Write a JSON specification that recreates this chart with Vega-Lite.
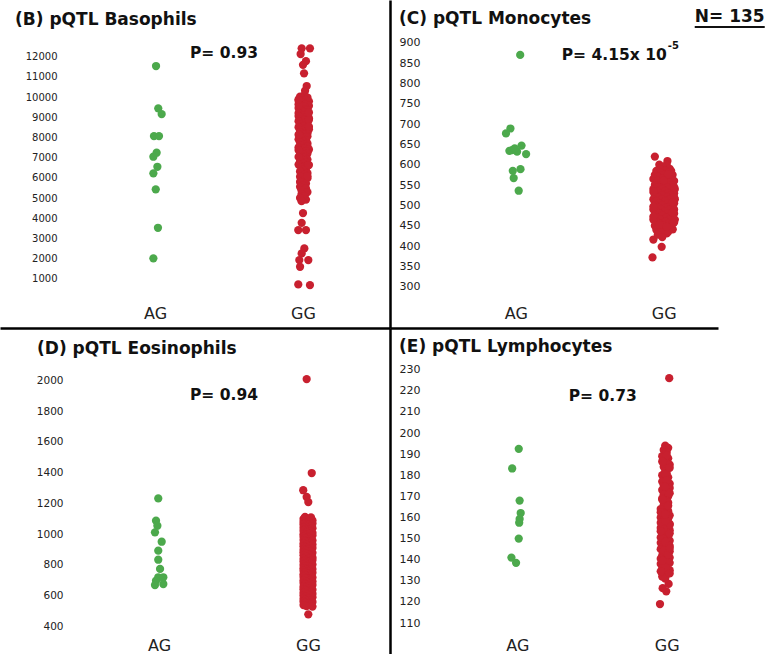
{
"$schema": "https://vega.github.io/schema/vega-lite/v6.json",
"padding": 0,
"background": "white",
"spacing": 0,
"config": {"view": {"stroke": null}, "concat": {"spacing": 0}, "axis": {"grid": false, "title": null, "labelOverlap": false}},
"datasets": {
"baso": [
{"g":"AG","x":1.007,"v":11540},{"g":"AG","x":1.022,"v":9446},{"g":"AG","x":1.045,"v":9163},{"g":"AG","x":0.993,"v":8074},{"g":"AG","x":1.027,"v":8074},{"g":"AG","x":1.011,"v":7248},{"g":"AG","x":0.989,"v":7050},{"g":"AG","x":1.016,"v":6554},{"g":"AG","x":0.989,"v":6228},{"g":"AG","x":1.005,"v":5436},{"g":"AG","x":1.02,"v":3535},{"g":"AG","x":0.989,"v":2020},
{"g":"GG","x":1.991,"v":12416},{"g":"GG","x":2.047,"v":12416},{"g":"GG","x":1.984,"v":12134},{"g":"GG","x":2.02,"v":11780},{"g":"GG","x":2.0,"v":11600},{"g":"GG","x":2.007,"v":11178},{"g":"GG","x":2.025,"v":10550},{"g":"GG","x":2.014,"v":10317},{"g":"GG","x":2.0,"v":4260},{"g":"GG","x":1.991,"v":3780},{"g":"GG","x":1.968,"v":3420},{"g":"GG","x":2.02,"v":3420},{"g":"GG","x":2.009,"v":2514},{"g":"GG","x":1.991,"v":2267},{"g":"GG","x":1.975,"v":1937},{"g":"GG","x":2.036,"v":1937},{"g":"GG","x":1.98,"v":1604},{"g":"GG","x":1.968,"v":733},{"g":"GG","x":2.047,"v":700},
{"g":"GG","x":2.01,"v":10100},{"g":"GG","x":1.98,"v":10020},{"g":"GG","x":2.03,"v":9980},{"g":"GG","x":1.99,"v":9920},{"g":"GG","x":2.02,"v":9870},{"g":"GG","x":1.97,"v":9820},{"g":"GG","x":2.04,"v":9790},{"g":"GG","x":2.0,"v":9720},{"g":"GG","x":2.02,"v":9660},{"g":"GG","x":1.98,"v":9610},{"g":"GG","x":2.04,"v":9570},{"g":"GG","x":2.01,"v":9520},{"g":"GG","x":1.97,"v":9460},{"g":"GG","x":2.02,"v":9410},{"g":"GG","x":2.03,"v":9360},{"g":"GG","x":1.99,"v":9310},{"g":"GG","x":2.01,"v":9260},{"g":"GG","x":1.97,"v":9210},{"g":"GG","x":2.03,"v":9160},{"g":"GG","x":2.0,"v":9110},{"g":"GG","x":1.97,"v":9060},{"g":"GG","x":2.02,"v":9010},{"g":"GG","x":2.04,"v":8960},{"g":"GG","x":1.99,"v":8910},{"g":"GG","x":2.01,"v":8860},{"g":"GG","x":1.97,"v":8810},{"g":"GG","x":2.03,"v":8760},{"g":"GG","x":2.01,"v":8710},{"g":"GG","x":1.98,"v":8660},{"g":"GG","x":2.03,"v":8610},{"g":"GG","x":2.0,"v":8560},{"g":"GG","x":1.97,"v":8510},{"g":"GG","x":2.02,"v":8460},{"g":"GG","x":2.04,"v":8410},{"g":"GG","x":1.99,"v":8360},{"g":"GG","x":2.01,"v":8310},{"g":"GG","x":1.98,"v":8260},{"g":"GG","x":2.03,"v":8210},{"g":"GG","x":2.0,"v":8160},{"g":"GG","x":1.98,"v":8110},{"g":"GG","x":2.03,"v":8060},{"g":"GG","x":2.02,"v":8010},{"g":"GG","x":1.99,"v":7960},{"g":"GG","x":1.97,"v":7910},{"g":"GG","x":2.02,"v":7860},{"g":"GG","x":2.0,"v":7810},{"g":"GG","x":1.98,"v":7760},{"g":"GG","x":2.03,"v":7710},{"g":"GG","x":2.01,"v":7660},{"g":"GG","x":1.99,"v":7610},{"g":"GG","x":2.03,"v":7560},{"g":"GG","x":1.97,"v":7510},{"g":"GG","x":2.01,"v":7460},{"g":"GG","x":2.04,"v":7410},{"g":"GG","x":1.99,"v":7360},{"g":"GG","x":2.02,"v":7310},{"g":"GG","x":1.98,"v":7260},{"g":"GG","x":2.03,"v":7210},{"g":"GG","x":2.0,"v":7160},{"g":"GG","x":1.98,"v":7110},{"g":"GG","x":2.02,"v":7060},{"g":"GG","x":2.01,"v":7010},{"g":"GG","x":1.98,"v":6960},{"g":"GG","x":2.03,"v":6910},{"g":"GG","x":2.01,"v":6860},{"g":"GG","x":1.98,"v":6810},{"g":"GG","x":2.02,"v":6760},{"g":"GG","x":2.0,"v":6710},{"g":"GG","x":1.97,"v":6660},{"g":"GG","x":2.03,"v":6610},{"g":"GG","x":2.01,"v":6560},{"g":"GG","x":1.99,"v":6510},{"g":"GG","x":2.02,"v":6460},{"g":"GG","x":2.0,"v":6400},{"g":"GG","x":1.98,"v":6320},{"g":"GG","x":2.03,"v":6240},{"g":"GG","x":2.01,"v":6150},{"g":"GG","x":1.98,"v":6060},{"g":"GG","x":2.03,"v":5990},{"g":"GG","x":2.01,"v":5900},{"g":"GG","x":1.98,"v":5800},{"g":"GG","x":2.02,"v":5720},{"g":"GG","x":2.0,"v":5640},{"g":"GG","x":1.98,"v":5560},{"g":"GG","x":2.02,"v":5480},{"g":"GG","x":1.99,"v":5390},{"g":"GG","x":2.03,"v":5300},{"g":"GG","x":1.99,"v":5200},{"g":"GG","x":2.01,"v":5100},{"g":"GG","x":1.98,"v":5010},{"g":"GG","x":2.02,"v":4930},{"g":"GG","x":1.99,"v":4850},{"g":"GG","x":1.97,"v":9640},{"g":"GG","x":2.04,"v":8880},{"g":"GG","x":1.97,"v":8140},{"g":"GG","x":1.97,"v":7380},{"g":"GG","x":2.04,"v":6640},{"g":"GG","x":1.97,"v":9890},{"g":"GG","x":2.04,"v":9240},{"g":"GG","x":1.97,"v":7040},{"g":"GG","x":2.03,"v":6090},{"g":"GG","x":2.04,"v":8540}
],
"mono": [
{"g":"AG","x":1.03,"v":870},{"g":"AG","x":0.964,"v":689},{"g":"AG","x":0.934,"v":677},{"g":"AG","x":0.975,"v":636},{"g":"AG","x":1.009,"v":632},{"g":"AG","x":1.039,"v":647},{"g":"AG","x":1.07,"v":626},{"g":"AG","x":0.957,"v":634},{"g":"AG","x":0.98,"v":585},{"g":"AG","x":1.032,"v":589},{"g":"AG","x":0.986,"v":567},{"g":"AG","x":1.02,"v":536},{"g":"AG","x":0.993,"v":640},
{"g":"GG","x":1.94,"v":620},{"g":"GG","x":2.025,"v":609},{"g":"GG","x":1.986,"v":398},{"g":"GG","x":1.924,"v":372},{"g":"GG","x":2.061,"v":441},{"g":"GG","x":2.02,"v":431},{"g":"GG","x":1.93,"v":416},
{"g":"GG","x":1.97,"v":600},{"g":"GG","x":2.02,"v":600},{"g":"GG","x":1.99,"v":595},{"g":"GG","x":1.97,"v":590},{"g":"GG","x":2.04,"v":590},{"g":"GG","x":1.95,"v":585},{"g":"GG","x":2.01,"v":585},{"g":"GG","x":2.05,"v":585},{"g":"GG","x":1.98,"v":580},{"g":"GG","x":2.03,"v":580},{"g":"GG","x":1.94,"v":575},{"g":"GG","x":2.0,"v":575},{"g":"GG","x":2.06,"v":575},{"g":"GG","x":1.96,"v":570},{"g":"GG","x":2.02,"v":570},{"g":"GG","x":1.93,"v":565},{"g":"GG","x":1.99,"v":565},{"g":"GG","x":2.04,"v":565},{"g":"GG","x":1.96,"v":560},{"g":"GG","x":2.02,"v":560},{"g":"GG","x":2.07,"v":560},{"g":"GG","x":1.98,"v":555},{"g":"GG","x":2.04,"v":555},{"g":"GG","x":1.94,"v":550},{"g":"GG","x":2.0,"v":550},{"g":"GG","x":2.06,"v":550},{"g":"GG","x":1.96,"v":545},{"g":"GG","x":2.02,"v":545},{"g":"GG","x":1.93,"v":540},{"g":"GG","x":1.99,"v":540},{"g":"GG","x":2.04,"v":540},{"g":"GG","x":2.075,"v":540},{"g":"GG","x":1.95,"v":535},{"g":"GG","x":2.01,"v":535},{"g":"GG","x":1.97,"v":530},{"g":"GG","x":2.03,"v":530},{"g":"GG","x":2.07,"v":530},{"g":"GG","x":1.94,"v":525},{"g":"GG","x":1.99,"v":525},{"g":"GG","x":2.05,"v":525},{"g":"GG","x":1.96,"v":520},{"g":"GG","x":2.02,"v":520},{"g":"GG","x":1.93,"v":515},{"g":"GG","x":1.99,"v":515},{"g":"GG","x":2.04,"v":515},{"g":"GG","x":2.075,"v":515},{"g":"GG","x":1.95,"v":510},{"g":"GG","x":2.01,"v":510},{"g":"GG","x":1.97,"v":505},{"g":"GG","x":2.03,"v":505},{"g":"GG","x":2.07,"v":505},{"g":"GG","x":1.94,"v":500},{"g":"GG","x":1.99,"v":500},{"g":"GG","x":2.05,"v":500},{"g":"GG","x":1.96,"v":495},{"g":"GG","x":2.02,"v":495},{"g":"GG","x":1.93,"v":490},{"g":"GG","x":1.98,"v":490},{"g":"GG","x":2.04,"v":490},{"g":"GG","x":2.07,"v":490},{"g":"GG","x":1.95,"v":485},{"g":"GG","x":2.01,"v":485},{"g":"GG","x":1.97,"v":480},{"g":"GG","x":2.03,"v":480},{"g":"GG","x":2.07,"v":480},{"g":"GG","x":1.94,"v":475},{"g":"GG","x":1.99,"v":475},{"g":"GG","x":2.05,"v":475},{"g":"GG","x":1.96,"v":470},{"g":"GG","x":2.02,"v":470},{"g":"GG","x":1.93,"v":465},{"g":"GG","x":1.98,"v":465},{"g":"GG","x":2.04,"v":465},{"g":"GG","x":2.075,"v":465},{"g":"GG","x":1.95,"v":460},{"g":"GG","x":2.01,"v":460},{"g":"GG","x":1.97,"v":455},{"g":"GG","x":2.03,"v":455},{"g":"GG","x":2.06,"v":455},{"g":"GG","x":1.94,"v":450},{"g":"GG","x":2.0,"v":450},{"g":"GG","x":1.96,"v":445},{"g":"GG","x":2.04,"v":445},{"g":"GG","x":1.95,"v":440},{"g":"GG","x":2.01,"v":440},{"g":"GG","x":1.98,"v":435},{"g":"GG","x":2.03,"v":435},{"g":"GG","x":1.96,"v":428},{"g":"GG","x":1.99,"v":422},
{"g":"GG","x":2.07,"v":545},{"g":"GG","x":2.07,"v":520},{"g":"GG","x":1.93,"v":497},{"g":"GG","x":1.93,"v":472},{"g":"GG","x":2.07,"v":458},{"g":"GG","x":1.93,"v":533},{"g":"GG","x":2.06,"v":508},{"g":"GG","x":2.06,"v":483},{"g":"GG","x":2.0,"v":562},{"g":"GG","x":2.03,"v":577},{"g":"GG","x":1.97,"v":452},{"g":"GG","x":2.02,"v":447}
],
"eos": [
{"g":"AG","x":0.995,"v":1232},{"g":"AG","x":0.98,"v":1087},{"g":"AG","x":0.989,"v":1054},{"g":"AG","x":0.973,"v":1011},{"g":"AG","x":1.018,"v":950},{"g":"AG","x":0.995,"v":892},{"g":"AG","x":0.995,"v":833},{"g":"AG","x":1.007,"v":773},{"g":"AG","x":0.995,"v":719},{"g":"AG","x":1.029,"v":719},{"g":"AG","x":0.98,"v":697},{"g":"AG","x":1.029,"v":675},{"g":"AG","x":0.973,"v":668},
{"g":"GG","x":1.991,"v":2008},{"g":"GG","x":2.025,"v":1397},{"g":"GG","x":1.968,"v":1285},{"g":"GG","x":1.991,"v":1241},{"g":"GG","x":2.002,"v":1208},{"g":"GG","x":2.002,"v":478},
{"g":"GG","x":1.98,"v":1112},{"g":"GG","x":2.02,"v":1108},{"g":"GG","x":1.97,"v":1098},{"g":"GG","x":2.01,"v":1101},{"g":"GG","x":1.99,"v":1091},{"g":"GG","x":2.03,"v":1088},{"g":"GG","x":1.97,"v":1079},{"g":"GG","x":2.01,"v":1082},{"g":"GG","x":1.98,"v":1071},{"g":"GG","x":2.03,"v":1068},{"g":"GG","x":2.0,"v":1059},{"g":"GG","x":1.97,"v":1062},{"g":"GG","x":2.02,"v":1051},{"g":"GG","x":1.98,"v":1048},{"g":"GG","x":1.97,"v":1041},{"g":"GG","x":2.03,"v":1038},{"g":"GG","x":2.0,"v":1029},{"g":"GG","x":1.98,"v":1032},{"g":"GG","x":2.02,"v":1019},{"g":"GG","x":1.97,"v":1022},{"g":"GG","x":1.99,"v":1011},{"g":"GG","x":2.03,"v":1008},{"g":"GG","x":1.97,"v":999},{"g":"GG","x":2.01,"v":1002},{"g":"GG","x":2.03,"v":991},{"g":"GG","x":1.98,"v":988},{"g":"GG","x":2.0,"v":979},{"g":"GG","x":1.97,"v":982},{"g":"GG","x":2.02,"v":969},{"g":"GG","x":1.98,"v":972},{"g":"GG","x":1.97,"v":961},{"g":"GG","x":2.03,"v":958},{"g":"GG","x":2.0,"v":949},{"g":"GG","x":1.98,"v":952},{"g":"GG","x":2.02,"v":941},{"g":"GG","x":1.97,"v":938},{"g":"GG","x":1.99,"v":929},{"g":"GG","x":2.03,"v":932},{"g":"GG","x":1.97,"v":921},{"g":"GG","x":2.01,"v":918},{"g":"GG","x":2.03,"v":909},{"g":"GG","x":1.98,"v":912},{"g":"GG","x":2.0,"v":901},{"g":"GG","x":1.97,"v":898},{"g":"GG","x":2.02,"v":889},{"g":"GG","x":1.98,"v":892},{"g":"GG","x":1.97,"v":881},{"g":"GG","x":2.03,"v":878},{"g":"GG","x":2.0,"v":869},{"g":"GG","x":1.98,"v":872},{"g":"GG","x":2.02,"v":859},{"g":"GG","x":1.97,"v":862},{"g":"GG","x":1.99,"v":851},{"g":"GG","x":2.03,"v":848},{"g":"GG","x":1.97,"v":839},{"g":"GG","x":2.01,"v":842},{"g":"GG","x":2.03,"v":831},{"g":"GG","x":1.98,"v":828},{"g":"GG","x":2.0,"v":819},{"g":"GG","x":1.97,"v":822},{"g":"GG","x":2.02,"v":811},{"g":"GG","x":1.98,"v":808},{"g":"GG","x":1.97,"v":799},{"g":"GG","x":2.03,"v":802},{"g":"GG","x":2.0,"v":789},{"g":"GG","x":1.98,"v":792},{"g":"GG","x":2.02,"v":781},{"g":"GG","x":1.97,"v":778},{"g":"GG","x":1.99,"v":769},{"g":"GG","x":2.03,"v":772},{"g":"GG","x":1.97,"v":761},{"g":"GG","x":2.01,"v":758},{"g":"GG","x":2.03,"v":749},{"g":"GG","x":1.98,"v":752},{"g":"GG","x":2.0,"v":741},{"g":"GG","x":1.97,"v":738},{"g":"GG","x":2.02,"v":729},{"g":"GG","x":1.98,"v":732},{"g":"GG","x":1.97,"v":721},{"g":"GG","x":2.03,"v":718},{"g":"GG","x":2.0,"v":709},{"g":"GG","x":1.98,"v":712},{"g":"GG","x":2.02,"v":701},{"g":"GG","x":1.97,"v":698},{"g":"GG","x":1.99,"v":689},{"g":"GG","x":2.03,"v":692},{"g":"GG","x":1.97,"v":681},{"g":"GG","x":2.01,"v":678},{"g":"GG","x":2.03,"v":669},{"g":"GG","x":1.98,"v":672},{"g":"GG","x":2.0,"v":661},{"g":"GG","x":1.97,"v":658},{"g":"GG","x":2.02,"v":649},{"g":"GG","x":1.98,"v":652},{"g":"GG","x":1.97,"v":641},{"g":"GG","x":2.03,"v":638},{"g":"GG","x":2.0,"v":629},{"g":"GG","x":1.98,"v":632},{"g":"GG","x":2.02,"v":621},{"g":"GG","x":1.97,"v":618},{"g":"GG","x":1.99,"v":609},{"g":"GG","x":2.03,"v":612},{"g":"GG","x":1.97,"v":601},{"g":"GG","x":2.01,"v":598},{"g":"GG","x":2.03,"v":589},{"g":"GG","x":1.98,"v":592},{"g":"GG","x":2.0,"v":581},{"g":"GG","x":1.97,"v":578},{"g":"GG","x":2.02,"v":569},{"g":"GG","x":1.98,"v":572},{"g":"GG","x":1.97,"v":561},{"g":"GG","x":2.03,"v":558},{"g":"GG","x":2.0,"v":549},{"g":"GG","x":1.98,"v":552},{"g":"GG","x":2.02,"v":541},{"g":"GG","x":1.97,"v":538},{"g":"GG","x":1.99,"v":531},{"g":"GG","x":2.03,"v":528}
],
"lymph": [
{"g":"AG","x":1.009,"v":192.5},{"g":"AG","x":0.965,"v":183.2},{"g":"AG","x":1.015,"v":168},{"g":"AG","x":1.022,"v":162.1},{"g":"AG","x":1.015,"v":159.3},{"g":"AG","x":1.012,"v":157.5},{"g":"AG","x":1.009,"v":150},{"g":"AG","x":0.96,"v":141},{"g":"AG","x":0.991,"v":138.5},
{"g":"GG","x":2.017,"v":226},{"g":"GG","x":1.955,"v":119},{"g":"GG","x":1.997,"v":125},{"g":"GG","x":1.973,"v":126.5},{"g":"GG","x":2.013,"v":128.5},
{"g":"GG","x":1.99,"v":194},{"g":"GG","x":2.01,"v":193},{"g":"GG","x":1.98,"v":192},{"g":"GG","x":2.0,"v":191},{"g":"GG","x":1.99,"v":190},{"g":"GG","x":1.97,"v":189},{"g":"GG","x":2.01,"v":188},{"g":"GG","x":1.99,"v":187},{"g":"GG","x":2.0,"v":186},{"g":"GG","x":2.02,"v":185},{"g":"GG","x":1.98,"v":184},{"g":"GG","x":2.0,"v":183},{"g":"GG","x":1.99,"v":182},{"g":"GG","x":2.0,"v":181},{"g":"GG","x":1.97,"v":180},{"g":"GG","x":2.01,"v":179},{"g":"GG","x":1.99,"v":178},{"g":"GG","x":1.97,"v":177},{"g":"GG","x":2.02,"v":176},{"g":"GG","x":1.98,"v":175},{"g":"GG","x":2.02,"v":174},{"g":"GG","x":1.97,"v":173},{"g":"GG","x":2.0,"v":172},{"g":"GG","x":1.98,"v":171},{"g":"GG","x":2.01,"v":170},{"g":"GG","x":1.97,"v":169},{"g":"GG","x":2.0,"v":168},{"g":"GG","x":2.01,"v":167},{"g":"GG","x":1.98,"v":166},{"g":"GG","x":1.99,"v":165},{"g":"GG","x":1.96,"v":164},{"g":"GG","x":2.01,"v":163},{"g":"GG","x":1.98,"v":162},{"g":"GG","x":2.02,"v":161},{"g":"GG","x":1.96,"v":160},{"g":"GG","x":2.0,"v":159},{"g":"GG","x":1.97,"v":158},{"g":"GG","x":2.02,"v":157},{"g":"GG","x":1.98,"v":156},{"g":"GG","x":1.96,"v":155},{"g":"GG","x":2.02,"v":154},{"g":"GG","x":2.0,"v":153},{"g":"GG","x":1.97,"v":152},{"g":"GG","x":2.01,"v":151},{"g":"GG","x":1.98,"v":150},{"g":"GG","x":2.02,"v":149},{"g":"GG","x":1.96,"v":148},{"g":"GG","x":2.0,"v":147},{"g":"GG","x":1.98,"v":146},{"g":"GG","x":1.96,"v":145},{"g":"GG","x":2.02,"v":144},{"g":"GG","x":1.99,"v":143},{"g":"GG","x":1.97,"v":142},{"g":"GG","x":2.02,"v":141},{"g":"GG","x":1.98,"v":140},{"g":"GG","x":2.01,"v":139},{"g":"GG","x":1.96,"v":138},{"g":"GG","x":1.99,"v":137},{"g":"GG","x":1.97,"v":136},{"g":"GG","x":2.02,"v":135},{"g":"GG","x":1.98,"v":134},{"g":"GG","x":2.0,"v":133},{"g":"GG","x":1.97,"v":132},{"g":"GG","x":1.99,"v":131},
{"g":"GG","x":2.0,"v":189.5},{"g":"GG","x":1.97,"v":186.5},{"g":"GG","x":2.02,"v":183.5},{"g":"GG","x":1.99,"v":180.5},{"g":"GG","x":2.0,"v":177.5},{"g":"GG","x":1.99,"v":174.5},{"g":"GG","x":2.02,"v":171.5},{"g":"GG","x":1.97,"v":168.5},{"g":"GG","x":2.01,"v":165.5},{"g":"GG","x":1.96,"v":162.5},{"g":"GG","x":2.01,"v":159.5},{"g":"GG","x":1.96,"v":157.5},{"g":"GG","x":2.02,"v":156.5},{"g":"GG","x":1.98,"v":154.5},{"g":"GG","x":2.02,"v":152.5},{"g":"GG","x":1.96,"v":150.5},{"g":"GG","x":1.99,"v":148.5},{"g":"GG","x":2.02,"v":146.5},{"g":"GG","x":1.98,"v":144.5},{"g":"GG","x":2.01,"v":142.5},{"g":"GG","x":1.96,"v":140.5},{"g":"GG","x":2.02,"v":138.5},{"g":"GG","x":1.99,"v":136.5},{"g":"GG","x":1.96,"v":134.5},{"g":"GG","x":2.02,"v":133.5},{"g":"GG","x":1.99,"v":158.5},{"g":"GG","x":1.99,"v":161.5},{"g":"GG","x":1.96,"v":153.5},{"g":"GG","x":2.02,"v":145.5},{"g":"GG","x":1.97,"v":139.5}
]
},
"vconcat": [
{"spacing": 0, "hconcat": [
{
"width": 390, "height": 328,
"title": {"text": "(B) pQTL Basophils", "anchor": "start", "frame": "group", "dx": 15, "offset": -42, "baseline": "alphabetic", "font": "DejaVu Sans", "fontSize": 17, "fontWeight": "bold", "color": "#111"},
"layer": [
{"data": {"name": "baso"}, "mark": {"type": "circle", "size": 68, "opacity": 1},
"encoding": {
"x": {"field": "x", "type": "quantitative", "scale": {"domain": [-0.0473, 2.5878], "nice": false, "zero": false}, "axis": {"values": [1, 2], "labelExpr": "datum.value == 1 ? 'AG' : 'GG'", "ticks": false, "tickSize": 0, "domain": true, "domainColor": "#000", "domainWidth": 2.5, "labelPadding": -15, "labelBaseline": "middle", "labelFont": "DejaVu Sans", "labelFontSize": 16, "labelColor": "#222"}},
"y": {"field": "v", "type": "quantitative", "scale": {"domain": [-1426, 14807], "nice": false, "zero": false}, "axis": {"values": [1000,2000,3000,4000,5000,6000,7000,8000,9000,10000,11000,12000], "format": "d", "labelOverlap": false, "ticks": false, "tickSize": 0, "domain": false, "offset": -60, "labelPadding": 3, "labelFont": "DejaVu Sans", "labelFontSize": 10, "labelColor": "#222"}},
"color": {"field": "g", "type": "nominal", "scale": {"domain": ["AG", "GG"], "range": ["#4ca94c", "#c8202f"]}, "legend": null}
}},
{"data": {"values": [{}]}, "mark": {"type": "text", "font": "DejaVu Sans", "fontSize": 15.5, "fontWeight": "bold", "color": "#111", "align": "center", "baseline": "middle"},
"encoding": {
"x": {"datum": 1.466, "type": "quantitative", "scale": {"domain": [-0.0473, 2.5878], "nice": false, "zero": false}},
"y": {"datum": 12184, "type": "quantitative", "scale": {"domain": [-1426, 14807], "nice": false, "zero": false}, "axis": {"orient": "right", "labels": false, "ticks": false, "domain": true, "domainColor": "#000", "domainWidth": 2.5}},
"text": {"value": "P= 0.93"}
}}
],
"resolve": {"scale": {"y": "independent"}}
},
{
"width": 328, "height": 328,
"title": {"text": "(C) pQTL Monocytes", "anchor": "start", "frame": "group", "dx": 9, "offset": -41, "baseline": "alphabetic", "font": "DejaVu Sans", "fontSize": 17, "fontWeight": "bold", "color": "#111"},
"encoding": {
"x": {"field": "x", "type": "quantitative", "scale": {"domain": [0.1503, 2.3666], "nice": false, "zero": false}, "axis": {"values": [1, 2], "labelExpr": "datum.value == 1 ? 'AG' : 'GG'", "ticks": false, "tickSize": 0, "domain": true, "domainColor": "#000", "domainWidth": 2.5, "labelPadding": -15, "labelBaseline": "middle", "labelFont": "DejaVu Sans", "labelFontSize": 16, "labelColor": "#222"}},
"y": {"field": "v", "type": "quantitative", "scale": {"domain": [198.4, 1005], "nice": false, "zero": false}, "axis": {"values": [300,350,400,450,500,550,600,650,700,750,800,850,900], "format": "d", "labelOverlap": false, "ticks": false, "tickSize": 0, "domain": false, "offset": -33, "labelPadding": 3, "labelFont": "DejaVu Sans", "labelFontSize": 11, "labelColor": "#222"}}
},
"layer": [
{"data": {"name": "mono"}, "mark": {"type": "circle", "size": 68, "opacity": 1},
"encoding": {
"color": {"field": "g", "type": "nominal", "scale": {"domain": ["AG", "GG"], "range": ["#4ca94c", "#c8202f"]}, "legend": null}
}},
{"data": {"values": [{"x": 1.3108, "v": 869.7, "t": "P= 4.15x 10"}]}, "mark": {"type": "text", "font": "DejaVu Sans", "fontSize": 15.5, "fontWeight": "bold", "color": "#111", "align": "left", "baseline": "middle"},
"encoding": {"text": {"field": "t"}}},
{"data": {"values": [{"x": 2.027, "v": 891.9, "t": "-5"}]}, "mark": {"type": "text", "font": "DejaVu Sans", "fontSize": 10, "fontWeight": "bold", "color": "#111", "align": "left", "baseline": "middle"},
"encoding": {"text": {"field": "t"}}},
{"data": {"values": [{"x": 2.4459, "v": 963.2, "t": "N= 135"}]}, "mark": {"type": "text", "font": "DejaVu Sans", "fontSize": 17, "fontWeight": "bold", "color": "#111", "align": "center", "baseline": "middle"},
"encoding": {"text": {"field": "t"}}},
{"data": {"values": [{"x": 2.2094, "x2": 2.6824, "v": 938.6}]}, "mark": {"type": "rule", "strokeWidth": 2, "color": "#111"},
"encoding": {"x2": {"field": "x2"}}}
]
}
]},
{"spacing": 0, "hconcat": [
{
"width": 390, "height": 326,
"title": {"text": "(D) pQTL Eosinophils", "anchor": "start", "frame": "group", "dx": 37, "offset": -43, "baseline": "alphabetic", "font": "DejaVu Sans", "fontSize": 17, "fontWeight": "bold", "color": "#111"},
"layer": [
{"data": {"name": "eos"}, "mark": {"type": "circle", "size": 68, "opacity": 1},
"encoding": {
"x": {"field": "x", "type": "quantitative", "scale": {"domain": [-0.0671, 2.5503], "nice": false, "zero": false}, "axis": {"values": [1, 2], "labelExpr": "datum.value == 1 ? 'AG' : 'GG'", "ticks": false, "tickSize": 0, "domain": false, "labelPadding": -9, "labelBaseline": "middle", "labelFont": "DejaVu Sans", "labelFontSize": 16, "labelColor": "#222"}},
"y": {"field": "v", "type": "quantitative", "scale": {"domain": [219.8, 2340.2], "nice": false, "zero": false}, "axis": {"values": [400,600,800,1000,1200,1400,1600,1800,2000], "format": "d", "labelOverlap": false, "ticks": false, "tickSize": 0, "domain": false, "offset": -66, "labelPadding": 3, "labelFont": "DejaVu Sans", "labelFontSize": 10.5, "labelColor": "#222"}},
"color": {"field": "g", "type": "nominal", "scale": {"domain": ["AG", "GG"], "range": ["#4ca94c", "#c8202f"]}, "legend": null}
}},
{"data": {"values": [{}]}, "mark": {"type": "text", "font": "DejaVu Sans", "fontSize": 15.5, "fontWeight": "bold", "color": "#111", "align": "center", "baseline": "middle"},
"encoding": {
"x": {"datum": 1.436, "type": "quantitative", "scale": {"domain": [-0.0671, 2.5503], "nice": false, "zero": false}},
"y": {"datum": 1906, "type": "quantitative", "scale": {"domain": [219.8, 2340.2], "nice": false, "zero": false}, "axis": {"orient": "right", "labels": false, "ticks": false, "domain": true, "domainColor": "#000", "domainWidth": 2.5}},
"text": {"value": "P= 0.94"}
}}
],
"resolve": {"scale": {"y": "independent"}}
},
{
"width": 328, "height": 326,
"title": {"text": "(E) pQTL Lymphocytes", "anchor": "start", "frame": "group", "dx": 9, "offset": -40.5, "baseline": "alphabetic", "font": "DejaVu Sans", "fontSize": 17, "fontWeight": "bold", "color": "#111"},
"encoding": {
"x": {"field": "x", "type": "quantitative", "scale": {"domain": [0.1467, 2.3436], "nice": false, "zero": false}, "axis": {"values": [1, 2], "labelExpr": "datum.value == 1 ? 'AG' : 'GG'", "ticks": false, "tickSize": 0, "domain": false, "labelPadding": -9, "labelBaseline": "middle", "labelFont": "DejaVu Sans", "labelFontSize": 16, "labelColor": "#222"}},
"y": {"field": "v", "type": "quantitative", "scale": {"domain": [95.32, 249.75], "nice": false, "zero": false}, "axis": {"values": [110,120,130,140,150,160,170,180,190,200,210,220,230], "format": "d", "labelOverlap": false, "ticks": false, "tickSize": 0, "domain": false, "offset": -33, "labelPadding": 3, "labelFont": "DejaVu Sans", "labelFontSize": 11, "labelColor": "#222"}}
},
"layer": [
{"data": {"name": "lymph"}, "mark": {"type": "circle", "size": 68, "opacity": 1},
"encoding": {
"color": {"field": "g", "type": "nominal", "scale": {"domain": ["AG", "GG"], "range": ["#4ca94c", "#c8202f"]}, "legend": null}
}},
{"data": {"values": [{"x": 1.5717, "v": 217.66, "t": "P= 0.73"}]}, "mark": {"type": "text", "font": "DejaVu Sans", "fontSize": 15.5, "fontWeight": "bold", "color": "#111", "align": "center", "baseline": "middle"},
"encoding": {"text": {"field": "t"}}}
]
}
]}
]
}
